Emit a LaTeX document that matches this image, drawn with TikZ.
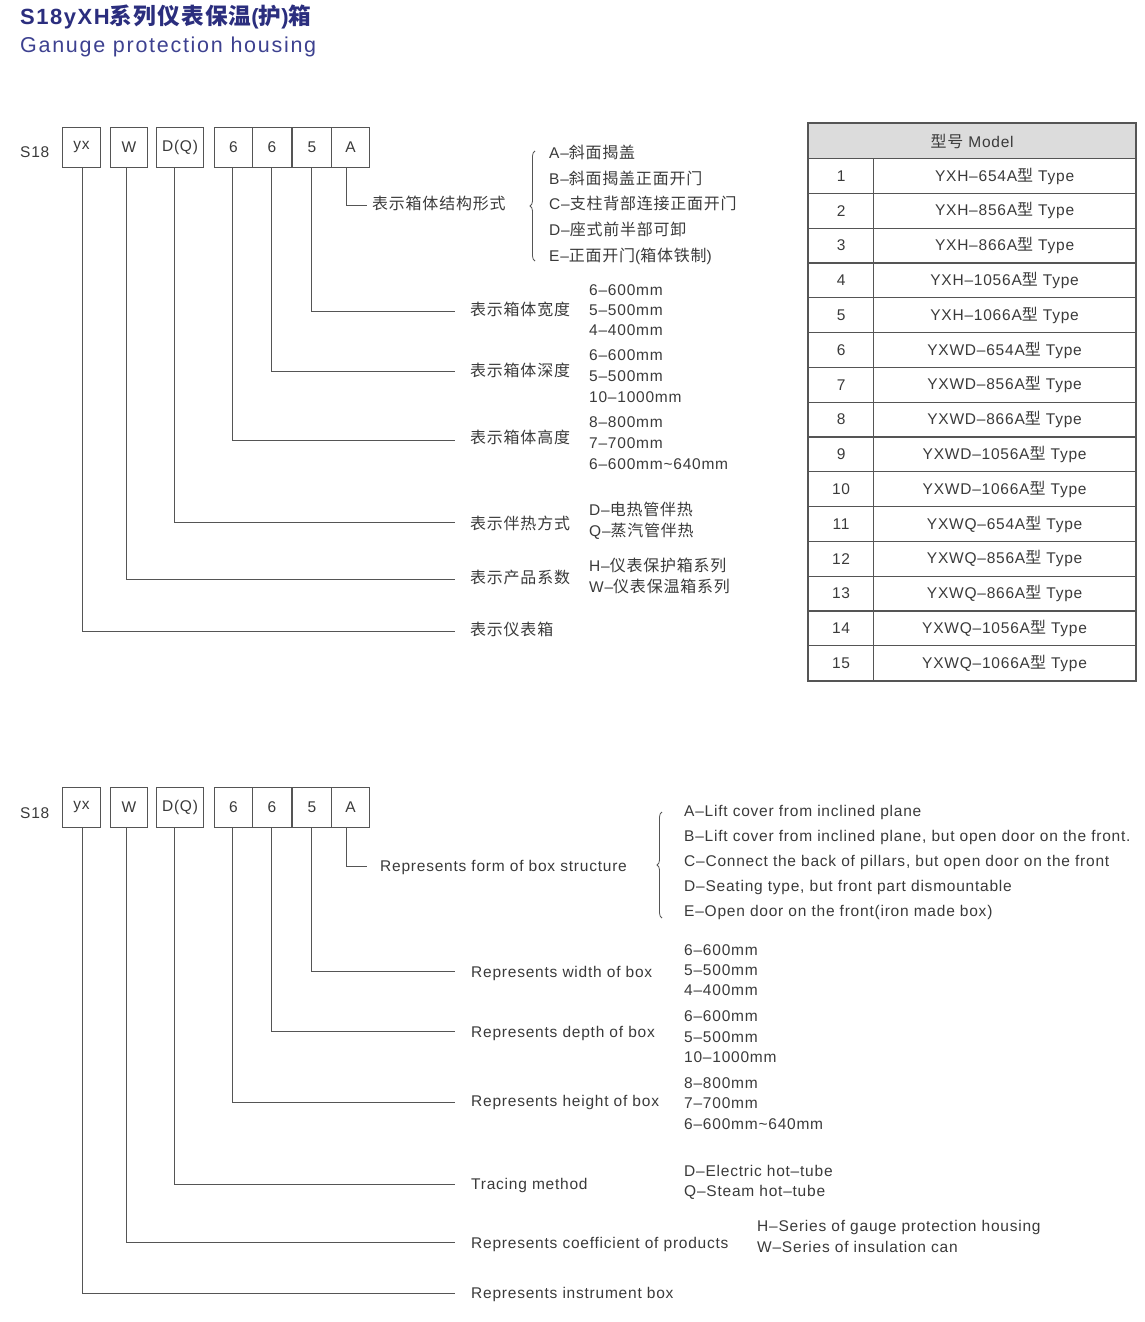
\documentclass[tikz,border=0pt]{standalone}
\usepackage{fontspec}
\setmainfont{Liberation Sans}[LetterSpace=5]
\newfontfamily\cjk{Noto Sans CJK SC}[Scale=1.03, LetterSpace=5]
\newcommand\zh[1]{{\cjk #1}}
\usetikzlibrary{decorations.pathreplacing}
\definecolor{txt}{HTML}{3A3A3A}
\definecolor{ln}{HTML}{555555}
\definecolor{ttl}{HTML}{2B2E7E}
\definecolor{sub}{HTML}{3D4190}
\definecolor{hdr}{HTML}{DCDCDC}
\begin{document}
\begin{tikzpicture}[x=1pt,y=-1pt,
  every node/.style={text=txt, inner sep=0pt},
  font=\fontsize{15.5}{18}\selectfont,
  code/.style={draw=ln, line width=1pt, minimum height=40pt, anchor=north west},
  lead/.style={draw=ln, line width=0.9pt},
  lab/.style={anchor=west, text height=11.5pt, text depth=0pt},
  cell/.style={draw=ln, line width=1.2pt, minimum height=34.8pt, anchor=north west},
  brc/.style={draw=ln, line width=0.8pt, decorate, decoration={brace, amplitude=5pt}}]
\useasboundingbox (0,0) rectangle (1145,1322);
% titles
\node[anchor=west, text=ttl, font=\fontsize{22}{24}\bfseries\addfontfeatures{LetterSpace=7}] (title) at (20,17) {S18yXH\zh{系列仪表保温}(\zh{护})\zh{箱}};
\node[anchor=west, text=sub, font=\fontsize{21.5}{24}\selectfont\addfontfeatures{LetterSpace=8}] (subtitle) at (20,47) {Ganuge protection housing};

% ===== top diagram =====
\node[lab] (s18a) at (20,152) {S18};
\node[code, minimum width=38pt] (ayx) at (62,127) {yx};
\node[code, minimum width=37pt] (aw) at (110,127) {W};
\node[code, minimum width=47pt] (adq) at (156,127) {D(Q)};
\node[code, minimum width=38pt] (a6a) at (214,127) {6};
\node[code, minimum width=39pt] (a6b) at (252,127) {6};
\node[code, minimum width=39pt] (a5) at (292,127) {5};
\node[code, minimum width=38pt] (aA) at (331,127) {A};

\coordinate (ae1) at (455,631);
\coordinate (ae2) at (455,579);
\coordinate (ae3) at (455,522);
\coordinate (ae4) at (455,440);
\coordinate (ae5) at (455,371);
\coordinate (ae6) at (455,311);
\coordinate (ae7) at (367,205);
\draw[lead] ([xshift=1pt]ayx.south) |- (ae1);
\draw[lead] ([xshift=-3pt]aw.south) |- (ae2);
\draw[lead] ([xshift=-6pt]adq.south) |- (ae3);
\draw[lead] ([xshift=-1pt]a6a.south) |- (ae4);
\draw[lead] ([xshift=-1pt]a6b.south) |- (ae5);
\draw[lead] ([xshift=-1pt]a5.south) |- (ae6);
\draw[lead] ([xshift=-4pt]aA.south) |- (ae7);

\node[lab] (al7) at (372,204) {\zh{表示箱体结构形式}};
\node[lab] (al6) at (470,310) {\zh{表示箱体宽度}};
\node[lab] (al5) at (470,371) {\zh{表示箱体深度}};
\node[lab] (al4) at (470,438) {\zh{表示箱体高度}};
\node[lab] (al3) at (470,524) {\zh{表示伴热方式}};
\node[lab] (al2) at (470,578) {\zh{表示产品系数}};
\node[lab] (al1) at (470,630) {\zh{表示仪表箱}};

\draw[brc] (535,261) -- (535,151);
\node[lab] (aoa) at (549,153) {A–\zh{斜面揭盖}};
\node[lab] (aob) at (549,179) {B–\zh{斜面揭盖正面开门}};
\node[lab] (aoc) at (549,204) {C–\zh{支柱背部连接正面开门}};
\node[lab] (aod) at (549,230) {D–\zh{座式前半部可卸}};
\node[lab] (aoe) at (549,256) {E–\zh{正面开门}(\zh{箱体铁制})};

\node[lab] at (589,290) {6–600mm};
\node[lab] at (589,310) {5–500mm};
\node[lab] at (589,330) {4–400mm};
\node[lab] at (589,355) {6–600mm};
\node[lab] at (589,376) {5–500mm};
\node[lab] at (589,397) {10–1000mm};
\node[lab] at (589,422) {8–800mm};
\node[lab] at (589,443) {7–700mm};
\node[lab] at (589,464) {6–600mm\textasciitilde640mm};
\node[lab] at (589,510) {D–\zh{电热管伴热}};
\node[lab] at (589,531) {Q–\zh{蒸汽管伴热}};
\node[lab] at (589,566) {H–\zh{仪表保护箱系列}};
\node[lab] at (589,587) {W–\zh{仪表保温箱系列}};

% ===== table =====
\node[cell, fill=hdr, minimum width=327pt, minimum height=35pt] (hd) at (808,123) {\zh{型号} Model};
\foreach \t [count=\i] in {YXH–654A,YXH–856A,YXH–866A,YXH–1056A,YXH–1066A,YXWD–654A,YXWD–856A,YXWD–866A,YXWD–1056A,YXWD–1066A,YXWQ–654A,YXWQ–856A,YXWQ–866A,YXWQ–1056A,YXWQ–1066A}{
  \pgfmathsetmacro\yy{158+(\i-1)*34.8}
  \node[cell, minimum width=65pt] (n\i) at (808,\yy) {\i};
  \node[cell, minimum width=262pt] (m\i) at (873,\yy) {\t\zh{型} Type};
}
\draw[ln, line width=1.6pt] (hd.north west) rectangle (m15.south east);

% ===== bottom diagram =====
\node[lab] (s18b) at (20,813) {S18};
\node[code, minimum width=38pt] (byx) at (62,787) {yx};
\node[code, minimum width=37pt] (bw) at (110,787) {W};
\node[code, minimum width=47pt] (bdq) at (156,787) {D(Q)};
\node[code, minimum width=38pt] (b6a) at (214,787) {6};
\node[code, minimum width=39pt] (b6b) at (252,787) {6};
\node[code, minimum width=39pt] (b5) at (292,787) {5};
\node[code, minimum width=38pt] (bA) at (331,787) {A};

\coordinate (be1) at (455,1293);
\coordinate (be2) at (455,1242);
\coordinate (be3) at (455,1184);
\coordinate (be4) at (455,1102);
\coordinate (be5) at (455,1031);
\coordinate (be6) at (455,971);
\coordinate (be7) at (367,866);
\draw[lead] ([xshift=1pt]byx.south) |- (be1);
\draw[lead] ([xshift=-3pt]bw.south) |- (be2);
\draw[lead] ([xshift=-6pt]bdq.south) |- (be3);
\draw[lead] ([xshift=-1pt]b6a.south) |- (be4);
\draw[lead] ([xshift=-1pt]b6b.south) |- (be5);
\draw[lead] ([xshift=-1pt]b5.south) |- (be6);
\draw[lead] ([xshift=-4pt]bA.south) |- (be7);

\node[lab] (bl7) at (380,866) {Represents form of box structure};
\node[lab] (bl6) at (471,972) {Represents width of box};
\node[lab] (bl5) at (471,1032) {Represents depth of box};
\node[lab] (bl4) at (471,1101) {Represents height of box};
\node[lab] (bl3) at (471,1184) {Tracing method};
\node[lab] (bl2) at (471,1243) {Represents coefficient of products};
\node[lab] (bl1) at (471,1293) {Represents instrument box};

\draw[brc] (662,918) -- (662,812);
\node[lab] (boa) at (684,811) {A–Lift cover from inclined plane};
\node[lab] (bob) at (684,836) {B–Lift cover from inclined plane, but open door on the front.};
\node[lab] (boc) at (684,861) {C–Connect the back of pillars, but open door on the front};
\node[lab] (bod) at (684,886) {D–Seating type, but front part dismountable};
\node[lab] (boe) at (684,911) {E–Open door on the front(iron made box)};

\node[lab] at (684,950) {6–600mm};
\node[lab] at (684,970) {5–500mm};
\node[lab] at (684,990) {4–400mm};
\node[lab] at (684,1016) {6–600mm};
\node[lab] at (684,1037) {5–500mm};
\node[lab] at (684,1057) {10–1000mm};
\node[lab] at (684,1083) {8–800mm};
\node[lab] at (684,1103) {7–700mm};
\node[lab] at (684,1124) {6–600mm\textasciitilde640mm};
\node[lab] at (684,1171) {D–Electric hot–tube};
\node[lab] at (684,1191) {Q–Steam hot–tube};
\node[lab] at (757,1226) {H–Series of gauge protection housing};
\node[lab] at (757,1247) {W–Series of insulation can};
\end{tikzpicture}
\end{document}
